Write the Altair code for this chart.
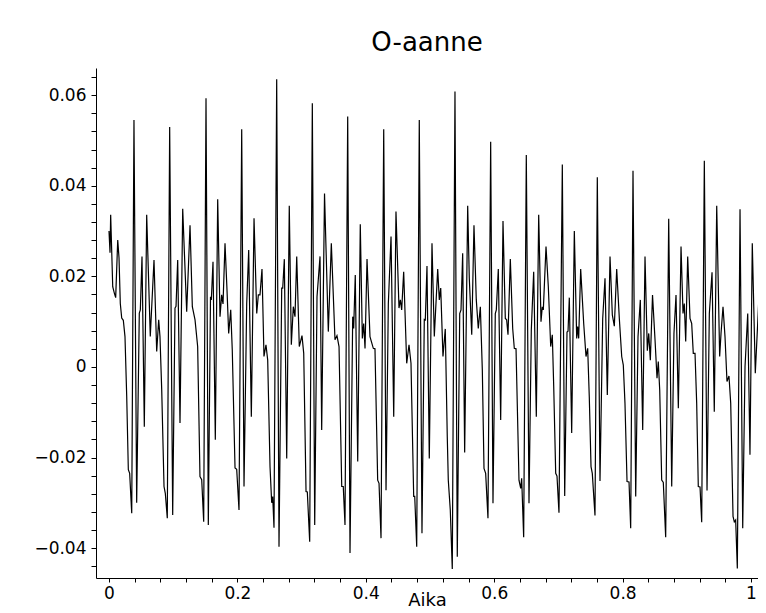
import altair as alt
import pandas as pd

# time (s) and amplitude
t1 = [0.0000, 0.0016, 0.0026, 0.0058, 0.0083, 0.0104, 0.0136, 0.0156, 0.0176, 0.0198, 0.0223, 0.0249, 0.0276, 0.0301, 0.0322, 0.0354, 0.0389, 0.0431, 0.0472, 0.0488, 0.0514, 0.0550, 0.0587, 0.0643, 0.0701, 0.0743, 0.0774, 0.0794, 0.0821, 0.0857, 0.0877, 0.0908, 0.0945, 0.0992, 0.1028, 0.1044, 0.1070, 0.1106, 0.1148, 0.1210, 0.1262, 0.1298, 0.1340, 0.1381, 0.1417, 0.1444, 0.1475, 0.1511, 0.1547]
v1 = [0.0300, 0.0252, 0.0336, 0.0177, 0.0163, 0.0153, 0.0280, 0.0241, 0.0140, 0.0108, 0.0103, 0.0067, -0.0066, -0.0227, -0.0235, -0.0323, 0.0545, -0.0300, 0.0119, 0.0126, 0.0244, -0.0132, 0.0336, 0.0067, 0.0236, 0.0034, 0.0104, 0.0067, -0.0050, -0.0264, -0.0279, -0.0334, 0.0530, -0.0327, 0.0130, 0.0134, 0.0236, -0.0124, 0.0349, 0.0122, 0.0313, 0.0133, 0.0104, 0.0045, -0.0242, -0.0249, -0.0342, 0.0593, -0.0349]

t2 = [0.1581, 0.1594, 0.1620, 0.1656, 0.1693, 0.1729, 0.1755, 0.1776, 0.1807, 0.1838, 0.1864, 0.1896, 0.1920, 0.1963, 0.1989, 0.2025, 0.2067, 0.2103, 0.2145, 0.2176, 0.2217, 0.2259, 0.2301, 0.2326, 0.2352, 0.2383, 0.2414, 0.2445, 0.2472, 0.2508, 0.2534, 0.2550, 0.2570, 0.2612, 0.2648, 0.2690, 0.2706, 0.2731, 0.2768, 0.2808, 0.2840, 0.2871, 0.2897, 0.2924, 0.2964, 0.3006, 0.3033, 0.3069, 0.3089, 0.3126, 0.3167, 0.3204, 0.3240, 0.3287, 0.3313, 0.3357]
v2 = [0.0155, 0.0148, 0.0232, -0.0161, 0.0370, 0.0111, 0.0159, 0.0139, 0.0273, 0.0170, 0.0074, 0.0126, 0.0038, -0.0223, -0.0226, -0.0316, 0.0525, -0.0264, 0.0140, 0.0258, -0.0110, 0.0328, 0.0118, 0.0159, 0.0159, 0.0216, 0.0023, 0.0049, 0.0015, -0.0220, -0.0300, -0.0286, -0.0355, 0.0635, -0.0397, 0.0174, 0.0174, 0.0238, -0.0202, 0.0356, 0.0049, 0.0133, 0.0111, 0.0244, 0.0045, 0.0069, 0.0030, -0.0275, -0.0276, -0.0386, 0.0582, -0.0349, 0.0155, 0.0244, -0.0139, 0.0383]

t3 = [0.3416, 0.3463, 0.3520, 0.3551, 0.3583, 0.3625, 0.3649, 0.3676, 0.3718, 0.3754, 0.3796, 0.3811, 0.3836, 0.3874, 0.3914, 0.3946, 0.3967, 0.3988, 0.4019, 0.4065, 0.4117, 0.4143, 0.4185, 0.4206, 0.4237, 0.4279, 0.4315, 0.4351, 0.4393, 0.4435, 0.4470, 0.4517, 0.4538, 0.4559, 0.4590, 0.4637, 0.4673, 0.4704, 0.4746, 0.4762, 0.4793, 0.4833, 0.4875, 0.4911, 0.4927, 0.4953, 0.4989, 0.5031, 0.5067]
v3 = [0.0078, 0.0273, 0.0060, 0.0069, 0.0045, -0.0264, -0.0264, -0.0349, 0.0553, -0.0411, 0.0111, 0.0085, 0.0203, -0.0209, 0.0315, 0.0063, 0.0096, 0.0041, 0.0238, 0.0067, 0.0041, 0.0040, -0.0250, -0.0257, -0.0378, 0.0525, -0.0272, 0.0140, 0.0288, -0.0110, 0.0343, 0.0130, 0.0148, 0.0126, 0.0210, 0.0008, 0.0049, 0.0008, -0.0286, -0.0286, -0.0397, 0.0545, -0.0367, 0.0105, 0.0104, 0.0223, -0.0202, 0.0273, 0.0067]

t4 = [0.5120, 0.5145, 0.5167, 0.5202, 0.5238, 0.5269, 0.5285, 0.5316, 0.5347, 0.5389, 0.5425, 0.5463, 0.5483, 0.5509, 0.5540, 0.5587, 0.5612, 0.5650, 0.5685, 0.5721, 0.5752, 0.5784, 0.5815, 0.5841, 0.5867, 0.5903, 0.5945, 0.5981, 0.6017, 0.6033, 0.6064, 0.6101, 0.6137, 0.6173, 0.6194, 0.6215, 0.6251, 0.6288, 0.6313, 0.6340, 0.6386, 0.6413, 0.6428, 0.6459, 0.6500, 0.6542, 0.6578, 0.6615, 0.6656, 0.6693]
v4 = [0.0216, 0.0148, 0.0174, 0.0023, 0.0084, -0.0154, -0.0250, -0.0316, -0.0446, 0.0608, -0.0419, 0.0118, 0.0126, 0.0251, -0.0189, 0.0356, 0.0196, 0.0071, 0.0313, 0.0148, 0.0085, 0.0133, -0.0007, -0.0224, -0.0235, -0.0334, 0.0497, -0.0301, 0.0118, 0.0126, 0.0216, -0.0117, 0.0322, 0.0107, 0.0104, 0.0071, 0.0238, 0.0085, 0.0041, 0.0040, -0.0250, -0.0268, -0.0246, -0.0376, 0.0468, -0.0301, 0.0082, 0.0210, -0.0110, 0.0336]

t5 = [0.6729, 0.6749, 0.6765, 0.6807, 0.6843, 0.6880, 0.6905, 0.6927, 0.6958, 0.6978, 0.7009, 0.7061, 0.7098, 0.7134, 0.7150, 0.7170, 0.7207, 0.7248, 0.7285, 0.7300, 0.7316, 0.7347, 0.7394, 0.7430, 0.7456, 0.7481, 0.7508, 0.7528, 0.7570, 0.7606, 0.7648, 0.7690, 0.7726, 0.7762, 0.7804, 0.7840, 0.7871, 0.7908, 0.7949, 0.7986, 0.8011, 0.8037, 0.8069, 0.8100, 0.8126, 0.8162, 0.8204, 0.8240, 0.8276, 0.8313, 0.8349]
v5 = [0.0100, 0.0133, 0.0126, 0.0266, 0.0177, 0.0045, 0.0071, -0.0043, -0.0235, -0.0241, -0.0322, 0.0447, -0.0285, 0.0077, 0.0079, 0.0153, -0.0146, 0.0300, 0.0063, 0.0089, 0.0063, 0.0216, 0.0096, 0.0023, 0.0041, -0.0066, -0.0220, -0.0235, -0.0328, 0.0419, -0.0252, 0.0107, 0.0196, -0.0062, 0.0244, 0.0115, 0.0090, 0.0216, 0.0107, 0.0023, 0.0004, -0.0080, -0.0253, -0.0254, -0.0356, 0.0433, -0.0286, 0.0067, 0.0148, -0.0139, 0.0244]

t6 = [0.8385, 0.8407, 0.8432, 0.8466, 0.8505, 0.8536, 0.8556, 0.8578, 0.8609, 0.8634, 0.8671, 0.8718, 0.8765, 0.8800, 0.8832, 0.8868, 0.8910, 0.8941, 0.8961, 0.8983, 0.9014, 0.9050, 0.9076, 0.9101, 0.9128, 0.9154, 0.9179, 0.9206, 0.9232, 0.9273, 0.9315, 0.9351, 0.9393, 0.9428, 0.9466, 0.9512, 0.9533, 0.9564, 0.9595, 0.9626, 0.9657, 0.9684, 0.9720, 0.9740, 0.9761, 0.9787, 0.9829, 0.9871, 0.9907, 0.9949, 0.9984, 1.0020, 1.0067, 1.0125, 1.0167]
v6 = [0.0036, 0.0074, 0.0015, 0.0159, 0.0060, -0.0025, 0.0012, -0.0051, -0.0250, -0.0255, -0.0376, 0.0327, -0.0264, 0.0074, 0.0159, -0.0091, 0.0266, 0.0118, 0.0140, 0.0056, 0.0244, 0.0107, 0.0096, 0.0030, 0.0030, -0.0080, -0.0264, -0.0265, -0.0343, 0.0455, -0.0273, 0.0118, 0.0209, -0.0099, 0.0356, 0.0023, 0.0074, 0.0133, 0.0067, -0.0032, -0.0020, -0.0080, -0.0330, -0.0342, -0.0338, -0.0445, 0.0348, -0.0356, 0.0001, 0.0118, -0.0194, 0.0273, -0.0014, 0.0159, 0.0050]

x_tick_values = [0.0, 0.04, 0.08, 0.12, 0.16, 0.2, 0.24, 0.28, 0.32, 0.36, 0.4, 0.44, 0.48,
                 0.52, 0.56, 0.6, 0.64, 0.68, 0.72, 0.76, 0.8, 0.84, 0.88, 0.92, 0.96, 1.0]
y_tick_values = [-0.044, -0.04, -0.036, -0.032, -0.028, -0.024, -0.02, -0.016, -0.012, -0.008,
                 -0.004, 0.0, 0.004, 0.008, 0.012, 0.016, 0.02, 0.024, 0.028, 0.032, 0.036,
                 0.04, 0.044, 0.048, 0.052, 0.056, 0.06, 0.064]

t = t1 + t2 + t3 + t4 + t5 + t6
v = v1 + v2 + v3 + v4 + v5 + v6
assert len(t) == len(v)
df = pd.DataFrame({"Aika": t, "amp": v, "order": list(range(len(t)))})

FONT = "DejaVu Sans"

chart = alt.Chart(df).mark_line(color="black", strokeWidth=1.2, clip=False).encode(
    x=alt.X("Aika:Q",
            scale=alt.Scale(domain=[-0.02025, 1.0109], nice=False, zero=False),
            axis=alt.Axis(values=x_tick_values,
                          labelExpr="abs(datum.value*5 - round(datum.value*5)) < 0.001 ? format(datum.value, '~g') : ''",
                          title="Aika", grid=False, tickSize=4, labelPadding=3,
                          titlePadding=-10, titleFontSize=18,
                          labelFlush=False, labelOverlap=False)),
    y=alt.Y("amp:Q",
            scale=alt.Scale(domain=[-0.0466, 0.066], nice=False, zero=False),
            axis=alt.Axis(values=y_tick_values,
                          labelExpr="abs(datum.value*50 - round(datum.value*50)) < 0.001 ? format(datum.value, '~g') : ''",
                          title=None, grid=False, tickSize=5, labelPadding=5,
                          labelFlush=False, labelOverlap=False)),
    order="order:Q",
).properties(
    width=662, height=510,
    title=alt.TitleParams("O-aanne", fontSize=26, font=FONT, fontWeight="normal",
                          anchor="middle", offset=12, color="black"),
    autosize=alt.AutoSizeParams(type="none"),
    padding={"left": 88, "top": 60, "right": 0, "bottom": 35},
).configure_view(stroke=None).configure_axis(
    domainColor="black", tickColor="black", labelColor="black", titleColor="black",
    labelFont=FONT, titleFont=FONT, labelFontSize=17,
    titleFontWeight="normal", domainWidth=1, tickWidth=1,
)

chart.save("out.html", embed_options={"renderer": "svg", "actions": False})
